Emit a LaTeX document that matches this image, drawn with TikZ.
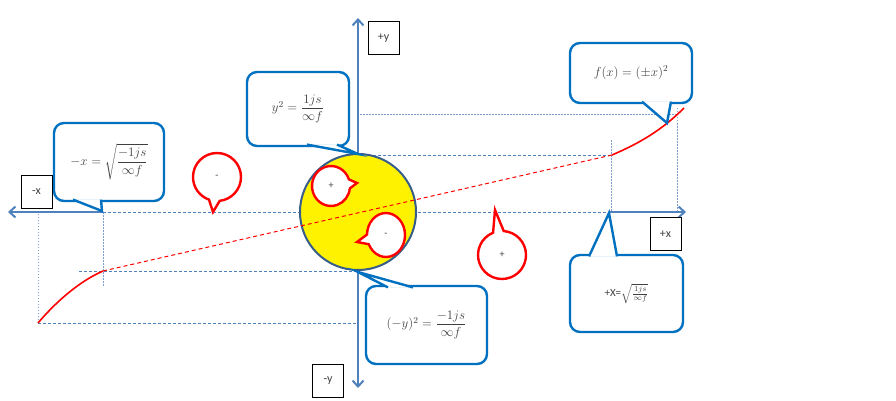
\RequirePackage{fix-cm}
\documentclass[tikz,border=0pt]{standalone}
\usepackage{amsmath}
\usepackage[no-math]{fontspec}
\newfontfamily\calibri{Carlito}
\usetikzlibrary{arrows.meta,calc,shapes.callouts}
\definecolor{axisblue}{RGB}{79,129,189}
\definecolor{callblue}{RGB}{0,112,192}
\definecolor{guideblue}{RGB}{125,155,205}
\definecolor{rimblue}{RGB}{56,93,138}
\definecolor{inkgray}{RGB}{64,64,64}
\tikzset{%
  axis/.style     = {draw=axisblue, line width=2pt},%
  guide/.style    = {draw=axisblue, line width=0.8pt, dash pattern=on 3pt off 2pt},%
  dotguide/.style = {draw=guideblue, line width=0.8pt, dash pattern=on 1.5pt off 1.5pt},%
  curve/.style    = {draw=red, line width=1.6pt},%
  disc/.style     = {circle, draw=rimblue, line width=2pt, fill=yellow,%
                     minimum size=116pt, inner sep=0pt},%
  bluebox/.style  = {draw=callblue, line width=2.4pt, fill=white, rounded corners=10pt,%
                     outer sep=0pt, text=inkgray, font=\fontsize{13}{15}\selectfont},%
  bluetail/.style = {draw=callblue, line width=2.4pt, fill=white},%
  redcall/.style  = {ellipse callout, draw=red, line width=2.4pt, fill=white, inner sep=0pt,%
                     callout pointer arc=26, text=inkgray, font=\calibri\fontsize{10}{12}\selectfont},%
  tag/.style      = {draw=black, line width=0.8pt, fill=white, inner sep=0pt,%
                     minimum width=31pt, minimum height=33pt,%
                     text=inkgray, font=\calibri\fontsize{12}{14}\selectfont}%
}
\begin{document}
\begin{tikzpicture}[x=1pt, y=-1pt, >={Straight Barb[length=6pt,width=11pt]}]
\useasboundingbox (0,0) rectangle (896,401);
% axes and points
\coordinate (origin) at (358,212);
\coordinate (xneg) at (8,212);
\coordinate (xpos) at (686,212);
\coordinate (ypos) at (358,18);
\coordinate (yneg) at (358,388);
\coordinate (xl) at (103,212);
\coordinate (xr) at (609,212);
\coordinate (lo) at (38,323);
\coordinate (la) at (103,271);
\coordinate (ra) at (612,155);
\coordinate (rb) at (684,108);
\coordinate (fx) at (677,108);
\coordinate (ftop) at (677,114);
\coordinate (ytop) at (360,114);
% guide lines
\draw[dotguide] (ytop) -- (ftop);
\draw[dotguide] (fx) -- (fx |- origin);
\draw[dotguide] ($(ra)+(-1,-15)$) -- ($(ra |- origin)+(-1,0)$);
\draw[dotguide] (lo) -- (lo |- origin);
\draw[dotguide] (xl) -- ($(la)+(0,16)$);
\draw[guide] (ra -| origin) -- (ra);
\draw[guide] ($(la)+(-24,0)$) -- (la -| origin);
\draw[guide] (lo) -- (lo -| origin);
\draw[guide] (xl) -- (xr);
\draw[axis,->] (xl) -- (xneg);
\draw[axis,->] (xr) -- (xpos);
\draw[axis,<->] (yneg) -- (ypos);
% disc
\node[disc] (disc) at (origin) {};
% curve
\draw[curve, line width=1pt, dash pattern=on 4pt off 3pt] (la) -- (ra);
\draw[curve] (lo) .. controls (55,303) and (78,282) .. (la);
\draw[curve] (ra) .. controls (640,143) and (662,130) .. (rb);
% blue callouts
\node[bluebox, minimum width=110pt, minimum height=78pt] (negx) at (109,162)
  {$-x=\sqrt{\dfrac{-1js}{\infty f}}$};
\coordinate (negxtip) at (102,211);
\filldraw[bluetail] ($(negx.south west)+(19,-1.4)$) -- (negxtip) -- ($(negx.south west)+(47,-1.4)$);
\node[bluebox, minimum width=102pt, minimum height=74pt] (posy) at (298,109)
  {$y^2=\dfrac{1js}{\infty f}$};
\coordinate (posytip) at (358,154);
\filldraw[bluetail] ($(posy.south west)+(60,-1.4)$) -- (posytip) -- ($(posy.south west)+(90,-1.4)$);
\node[bluebox, minimum width=121pt, minimum height=78pt] (negy) at (426.5,325)
  {$(-y)^2=\dfrac{-1js}{\infty f}$};
\coordinate (negytip) at (358,272);
\filldraw[bluetail] ($(negy.north west)+(22,1.4)$) -- (negytip) -- ($(negy.north west)+(47,1.4)$);
\node[bluebox, minimum width=122pt, minimum height=60pt] (fun) at (631,73)
  {$f(x)=(\pm x)^2$};
\coordinate (funtip) at (667,123);
\filldraw[bluetail] ($(fun.south west)+(72,-1.4)$) -- (funtip) -- ($(fun.south west)+(101,-1.4)$);
\node[bluebox, minimum width=113pt, minimum height=77pt, font=\fontsize{11}{13}\selectfont] (posx) at (626.5,293.5)
  {{\calibri +X=}$\sqrt{\frac{1js}{\infty f}}$};
\coordinate (posxtip) at (609,213);
\filldraw[bluetail] ($(posx.north west)+(19,1.4)$) -- (posxtip) -- ($(posx.north west)+(47,1.4)$);
% red callouts
\coordinate (minustip) at (213,212);
\coordinate (plustip) at (495,210);
\coordinate (inplustip) at (357,183);
\coordinate (inminustip) at (357,242);
\node[redcall, minimum width=48pt, minimum height=48pt, callout absolute pointer={(minustip)}] (minus) at (217,177) {-};
\node[redcall, minimum width=48pt, minimum height=48pt, callout absolute pointer={(plustip)}] (plus) at (502,255) {+};
\node[redcall, minimum width=38pt, minimum height=40pt, callout absolute pointer={(inplustip)}] (inplus) at (331,186) {+};
\node[redcall, minimum width=38pt, minimum height=44pt, callout absolute pointer={(inminustip)}] (inminus) at (386,235) {-};
% axis tags
\node[tag] (tagnx) at (36.5,191.5) {-x};
\node[tag] (tagpy) at (383.5,38) {+y};
\node[tag] (tagny) at (328,381) {-y};
\node[tag] (tagpx) at (665.5,234) {+x};
\end{tikzpicture}
\end{document}
